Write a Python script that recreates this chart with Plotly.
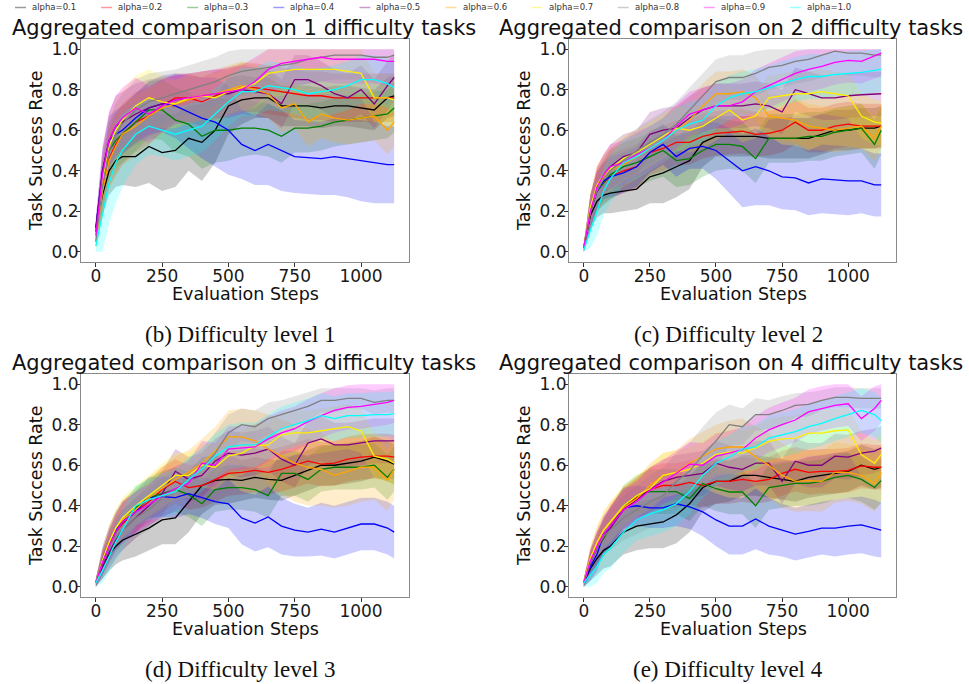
import plotly.graph_objects as go

W, H = 969, 684

STEPS = [0, 25, 50, 75, 100, 150, 200, 250, 300, 350, 400, 450, 500, 550,
         600, 650, 700, 750, 800, 850, 900, 950, 1000, 1050, 1100, 1125]

LABELS = ["alpha=0.1", "alpha=0.2", "alpha=0.3", "alpha=0.4", "alpha=0.5",
          "alpha=0.6", "alpha=0.7", "alpha=0.8", "alpha=0.9", "alpha=1.0"]
RGB = [(0, 0, 0), (255, 0, 0), (0, 128, 0), (0, 0, 255), (128, 0, 128),
       (255, 165, 0), (255, 238, 0), (128, 128, 128), (255, 0, 255), (0, 255, 255)]

TITLES = ["Aggregated comparison on 1 difficulty tasks",
          "Aggregated comparison on 2 difficulty tasks",
          "Aggregated comparison on 3 difficulty tasks",
          "Aggregated comparison on 4 difficulty tasks"]
CAPTIONS = ["(b) Difficulty level 1", "(c) Difficulty level 2",
            "(d) Difficulty level 3", "(e) Difficulty level 4"]

# ---------------- Difficulty level 1 (means) ----------------
L1_a01 = [0.12,0.28,0.40,0.45,0.47,0.47,0.52,0.49,0.50,0.56,0.54,0.60,0.72,0.75,0.76,0.76,0.72,0.72,0.72,0.71,0.72,0.72,0.71,0.70,0.76,0.77]
L1_a02 = [0.10,0.30,0.46,0.53,0.58,0.64,0.67,0.72,0.76,0.76,0.74,0.77,0.79,0.81,0.81,0.80,0.79,0.78,0.77,0.77,0.76,0.76,0.76,0.76,0.76,0.76]
L1_a03 = [0.10,0.34,0.50,0.55,0.58,0.64,0.70,0.70,0.65,0.63,0.57,0.60,0.60,0.61,0.61,0.60,0.57,0.61,0.61,0.62,0.64,0.65,0.66,0.67,0.68,0.71]
L1_a04 = [0.12,0.40,0.55,0.58,0.60,0.66,0.71,0.73,0.72,0.69,0.66,0.64,0.60,0.53,0.50,0.53,0.50,0.47,0.465,0.46,0.47,0.46,0.45,0.44,0.43,0.43]
L1_a05 = [0.12,0.40,0.55,0.62,0.64,0.68,0.71,0.73,0.75,0.76,0.77,0.78,0.78,0.80,0.79,0.78,0.73,0.85,0.85,0.82,0.78,0.76,0.80,0.73,0.82,0.86]
L1_a06 = [0.05,0.30,0.45,0.52,0.58,0.62,0.67,0.71,0.73,0.75,0.77,0.78,0.80,0.82,0.80,0.78,0.71,0.73,0.64,0.68,0.66,0.65,0.66,0.67,0.60,0.64]
L1_a07 = [0.05,0.35,0.52,0.60,0.65,0.72,0.76,0.74,0.73,0.76,0.77,0.76,0.79,0.81,0.83,0.88,0.89,0.90,0.90,0.90,0.90,0.89,0.88,0.76,0.76,0.75]
L1_a08 = [0.05,0.32,0.50,0.58,0.63,0.70,0.74,0.76,0.78,0.80,0.82,0.84,0.87,0.89,0.90,0.91,0.92,0.93,0.95,0.96,0.97,0.97,0.97,0.96,0.96,0.97]
L1_a09 = [0.08,0.38,0.55,0.62,0.66,0.71,0.68,0.72,0.75,0.76,0.77,0.78,0.79,0.80,0.84,0.90,0.93,0.94,0.95,0.96,0.95,0.95,0.95,0.95,0.94,0.94]
L1_a10 = [0.03,0.18,0.34,0.44,0.50,0.58,0.62,0.60,0.58,0.60,0.62,0.68,0.74,0.79,0.79,0.82,0.81,0.80,0.78,0.79,0.80,0.82,0.85,0.85,0.83,0.81]

# ---------------- Difficulty level 2 (means) ----------------
L2_a01 = [0.02,0.18,0.25,0.28,0.29,0.30,0.31,0.37,0.39,0.42,0.45,0.54,0.57,0.57,0.57,0.57,0.56,0.56,0.56,0.56,0.58,0.60,0.60,0.61,0.61,0.62]
L2_a02 = [0.02,0.20,0.30,0.34,0.37,0.40,0.42,0.49,0.51,0.54,0.54,0.57,0.585,0.59,0.595,0.58,0.585,0.60,0.64,0.60,0.60,0.62,0.63,0.62,0.62,0.62]
L2_a03 = [0.02,0.20,0.30,0.34,0.38,0.42,0.44,0.47,0.50,0.45,0.46,0.50,0.53,0.53,0.52,0.46,0.56,0.56,0.56,0.57,0.57,0.59,0.60,0.61,0.53,0.60]
L2_a04 = [0.02,0.20,0.30,0.35,0.37,0.39,0.42,0.49,0.53,0.47,0.51,0.52,0.50,0.45,0.40,0.42,0.40,0.37,0.365,0.34,0.36,0.355,0.35,0.35,0.33,0.33]
L2_a05 = [0.02,0.20,0.32,0.38,0.42,0.47,0.49,0.58,0.60,0.61,0.66,0.70,0.72,0.72,0.72,0.73,0.72,0.69,0.80,0.78,0.76,0.76,0.77,0.775,0.78,0.78]
L2_a06 = [0.02,0.20,0.32,0.37,0.40,0.43,0.47,0.51,0.55,0.60,0.65,0.72,0.78,0.78,0.79,0.76,0.67,0.66,0.65,0.62,0.61,0.60,0.61,0.62,0.56,0.62]
L2_a07 = [0.02,0.22,0.33,0.38,0.41,0.46,0.49,0.53,0.57,0.61,0.60,0.62,0.66,0.70,0.65,0.67,0.76,0.77,0.78,0.78,0.79,0.78,0.77,0.67,0.64,0.635]
L2_a08 = [0.02,0.20,0.30,0.36,0.40,0.45,0.50,0.54,0.58,0.63,0.70,0.77,0.84,0.86,0.86,0.88,0.91,0.92,0.94,0.95,0.97,0.99,0.98,0.98,0.97,0.97]
L2_a09 = [0.02,0.20,0.32,0.38,0.42,0.44,0.48,0.51,0.55,0.62,0.68,0.70,0.72,0.72,0.74,0.79,0.82,0.85,0.88,0.90,0.915,0.935,0.945,0.94,0.965,0.98]
L2_a10 = [0.01,0.10,0.20,0.30,0.36,0.44,0.47,0.51,0.55,0.60,0.63,0.65,0.72,0.76,0.78,0.79,0.81,0.83,0.85,0.865,0.865,0.875,0.88,0.885,0.895,0.90]

# ---------------- Difficulty level 3 (means) ----------------
L3_a01 = [0.02,0.10,0.16,0.20,0.23,0.26,0.29,0.33,0.34,0.42,0.50,0.525,0.53,0.525,0.54,0.53,0.525,0.55,0.575,0.60,0.60,0.61,0.62,0.64,0.62,0.605]
L3_a02 = [0.02,0.12,0.20,0.27,0.31,0.37,0.42,0.48,0.52,0.49,0.50,0.53,0.56,0.565,0.575,0.565,0.58,0.60,0.62,0.605,0.61,0.63,0.64,0.645,0.645,0.64]
L3_a03 = [0.02,0.12,0.20,0.27,0.32,0.39,0.44,0.46,0.48,0.455,0.41,0.48,0.49,0.49,0.48,0.45,0.56,0.56,0.53,0.58,0.59,0.59,0.59,0.60,0.54,0.58]
L3_a04 = [0.02,0.13,0.22,0.28,0.32,0.37,0.44,0.445,0.44,0.46,0.44,0.42,0.41,0.34,0.315,0.345,0.30,0.28,0.27,0.285,0.27,0.29,0.31,0.31,0.29,0.27]
L3_a05 = [0.02,0.10,0.17,0.23,0.28,0.34,0.40,0.46,0.57,0.53,0.55,0.62,0.66,0.65,0.66,0.68,0.63,0.60,0.71,0.73,0.70,0.70,0.71,0.72,0.72,0.72]
L3_a06 = [0.02,0.13,0.22,0.29,0.33,0.38,0.44,0.485,0.53,0.565,0.61,0.67,0.74,0.74,0.72,0.68,0.645,0.61,0.59,0.58,0.55,0.57,0.59,0.59,0.525,0.58]
L3_a07 = [0.02,0.13,0.22,0.29,0.34,0.40,0.45,0.50,0.55,0.55,0.60,0.59,0.645,0.66,0.695,0.70,0.75,0.76,0.76,0.77,0.78,0.79,0.77,0.645,0.63,0.61]
L3_a08 = [0.02,0.12,0.20,0.25,0.28,0.34,0.38,0.44,0.48,0.53,0.58,0.66,0.76,0.80,0.79,0.83,0.85,0.87,0.89,0.92,0.92,0.93,0.93,0.91,0.92,0.92]
L3_a09 = [0.02,0.12,0.20,0.27,0.32,0.37,0.405,0.45,0.485,0.51,0.61,0.60,0.68,0.685,0.69,0.73,0.76,0.78,0.815,0.845,0.87,0.885,0.89,0.90,0.91,0.92]
L3_a10 = [0.02,0.08,0.15,0.22,0.28,0.40,0.43,0.45,0.47,0.53,0.58,0.645,0.69,0.70,0.70,0.74,0.78,0.80,0.82,0.845,0.83,0.845,0.845,0.85,0.85,0.855]

# ---------------- Difficulty level 4 (means) ----------------
L4_a01 = [0.02,0.09,0.14,0.18,0.20,0.27,0.30,0.31,0.32,0.355,0.41,0.49,0.52,0.52,0.55,0.55,0.54,0.53,0.52,0.54,0.55,0.56,0.57,0.60,0.58,0.59]
L4_a02 = [0.02,0.12,0.19,0.24,0.30,0.39,0.44,0.48,0.50,0.50,0.515,0.50,0.52,0.52,0.53,0.52,0.53,0.56,0.58,0.565,0.57,0.57,0.575,0.597,0.59,0.59]
L4_a03 = [0.02,0.12,0.19,0.24,0.29,0.40,0.45,0.47,0.47,0.47,0.435,0.51,0.484,0.468,0.468,0.40,0.49,0.50,0.51,0.51,0.52,0.54,0.55,0.53,0.49,0.524]
L4_a04 = [0.02,0.10,0.16,0.26,0.29,0.39,0.40,0.39,0.39,0.41,0.395,0.37,0.33,0.30,0.30,0.335,0.30,0.28,0.26,0.274,0.29,0.29,0.30,0.306,0.29,0.28]
L4_a05 = [0.02,0.12,0.19,0.25,0.29,0.38,0.43,0.48,0.52,0.54,0.55,0.56,0.61,0.59,0.58,0.61,0.61,0.52,0.62,0.60,0.60,0.645,0.64,0.66,0.67,0.685]
L4_a06 = [0.02,0.14,0.22,0.28,0.32,0.39,0.435,0.50,0.55,0.565,0.61,0.645,0.68,0.69,0.69,0.64,0.60,0.55,0.52,0.524,0.52,0.565,0.565,0.55,0.51,0.565]
L4_a07 = [0.02,0.14,0.22,0.28,0.32,0.40,0.45,0.484,0.55,0.565,0.58,0.61,0.653,0.665,0.66,0.685,0.718,0.73,0.734,0.758,0.758,0.77,0.774,0.653,0.61,0.653]
L4_a08 = [0.02,0.12,0.19,0.25,0.28,0.34,0.38,0.42,0.45,0.52,0.57,0.65,0.72,0.80,0.79,0.85,0.85,0.87,0.895,0.90,0.92,0.935,0.935,0.93,0.93,0.93]
L4_a09 = [0.02,0.13,0.20,0.26,0.30,0.38,0.42,0.476,0.516,0.56,0.605,0.60,0.645,0.66,0.677,0.734,0.774,0.80,0.823,0.863,0.88,0.895,0.903,0.83,0.88,0.92]
L4_a10 = [0.02,0.06,0.10,0.16,0.19,0.27,0.33,0.36,0.38,0.41,0.47,0.55,0.61,0.64,0.68,0.69,0.734,0.75,0.766,0.79,0.806,0.83,0.85,0.87,0.85,0.82]

# ---------------- band half-widths (spread) ----------------
SD1_base  = [0.04,0.12,0.14,0.15,0.15,0.15,0.14,0.13,0.12,0.12,0.12,0.12,0.12,0.12,0.12,0.12,0.12,0.12,0.12,0.12,0.12,0.12,0.12,0.12,0.12,0.12]
SD1_black = [0.04,0.10,0.12,0.13,0.14,0.15,0.18,0.19,0.18,0.16,0.19,0.16,0.14,0.12,0.10,0.10,0.10,0.10,0.10,0.10,0.10,0.10,0.10,0.10,0.10,0.10]
SD1_blue  = [0.05,0.10,0.12,0.12,0.12,0.12,0.13,0.14,0.16,0.18,0.20,0.22,0.22,0.17,0.17,0.20,0.20,0.18,0.18,0.18,0.19,0.19,0.20,0.20,0.19,0.19]
SD1_cyan  = [0.03,0.18,0.20,0.20,0.18,0.15,0.14,0.13,0.13,0.13,0.13,0.13,0.12,0.12,0.12,0.12,0.12,0.12,0.12,0.12,0.12,0.12,0.12,0.12,0.12,0.12]
SD1_green = [0.04,0.12,0.14,0.14,0.14,0.14,0.14,0.15,0.16,0.16,0.16,0.16,0.15,0.14,0.13,0.13,0.13,0.12,0.12,0.12,0.12,0.12,0.12,0.12,0.12,0.12]

SD2_base  = [0.02,0.08,0.10,0.10,0.11,0.11,0.11,0.11,0.11,0.11,0.11,0.11,0.11,0.11,0.11,0.11,0.11,0.11,0.11,0.11,0.11,0.11,0.11,0.11,0.11,0.11]
SD2_black = [0.02,0.07,0.08,0.09,0.10,0.10,0.10,0.13,0.15,0.15,0.14,0.12,0.10,0.10,0.10,0.10,0.10,0.10,0.10,0.10,0.10,0.10,0.10,0.10,0.10,0.10]
SD2_blue  = [0.02,0.08,0.09,0.09,0.10,0.10,0.10,0.10,0.10,0.10,0.10,0.11,0.14,0.16,0.18,0.19,0.17,0.16,0.16,0.16,0.17,0.17,0.17,0.16,0.155,0.155]
SD2_cyan  = [0.01,0.08,0.12,0.12,0.12,0.11,0.11,0.11,0.11,0.11,0.11,0.11,0.11,0.11,0.11,0.11,0.11,0.11,0.11,0.11,0.11,0.11,0.11,0.11,0.11,0.11]
SD2_green = [0.02,0.08,0.10,0.11,0.12,0.12,0.12,0.12,0.13,0.13,0.13,0.13,0.13,0.12,0.12,0.12,0.12,0.12,0.12,0.12,0.12,0.12,0.12,0.12,0.12,0.12]

SD3_base   = [0.02,0.06,0.08,0.09,0.10,0.10,0.10,0.11,0.11,0.11,0.11,0.11,0.11,0.11,0.11,0.11,0.11,0.11,0.11,0.11,0.11,0.11,0.11,0.11,0.11,0.11]
SD3_black  = [0.02,0.06,0.08,0.09,0.10,0.11,0.11,0.12,0.13,0.15,0.14,0.12,0.12,0.10,0.10,0.10,0.10,0.10,0.10,0.10,0.10,0.10,0.10,0.10,0.10,0.10]
SD3_blue   = [0.02,0.07,0.08,0.09,0.10,0.10,0.10,0.10,0.10,0.10,0.10,0.11,0.12,0.13,0.14,0.15,0.14,0.13,0.12,0.13,0.13,0.13,0.13,0.13,0.13,0.13]
SD3_orange = [0.02,0.06,0.08,0.09,0.10,0.10,0.10,0.11,0.11,0.11,0.12,0.12,0.13,0.14,0.15,0.17,0.18,0.19,0.19,0.18,0.16,0.17,0.17,0.16,0.15,0.15]
SD3_gray   = [0.02,0.06,0.08,0.09,0.10,0.10,0.10,0.10,0.10,0.10,0.10,0.10,0.09,0.08,0.08,0.08,0.07,0.07,0.07,0.06,0.06,0.05,0.05,0.06,0.06,0.06]

SD4_base   = [0.02,0.06,0.08,0.09,0.10,0.10,0.10,0.11,0.11,0.11,0.11,0.11,0.11,0.11,0.11,0.11,0.11,0.11,0.11,0.11,0.11,0.11,0.11,0.11,0.11,0.11]
SD4_black  = [0.02,0.06,0.08,0.09,0.10,0.11,0.12,0.12,0.13,0.14,0.14,0.12,0.11,0.10,0.10,0.10,0.10,0.10,0.10,0.10,0.10,0.10,0.10,0.10,0.10,0.10]
SD4_blue   = [0.02,0.07,0.08,0.09,0.10,0.10,0.10,0.10,0.10,0.11,0.11,0.12,0.13,0.14,0.14,0.15,0.14,0.13,0.13,0.13,0.13,0.14,0.14,0.14,0.14,0.135]
SD4_orange = [0.02,0.06,0.08,0.09,0.10,0.10,0.10,0.11,0.11,0.11,0.12,0.12,0.12,0.13,0.14,0.15,0.16,0.16,0.15,0.15,0.15,0.15,0.14,0.14,0.14,0.14]
SD4_gray   = [0.02,0.06,0.08,0.09,0.10,0.11,0.12,0.13,0.14,0.14,0.14,0.14,0.14,0.10,0.09,0.08,0.07,0.07,0.06,0.06,0.05,0.05,0.05,0.05,0.05,0.05]

MEANS = [
    [L1_a01, L1_a02, L1_a03, L1_a04, L1_a05, L1_a06, L1_a07, L1_a08, L1_a09, L1_a10],
    [L2_a01, L2_a02, L2_a03, L2_a04, L2_a05, L2_a06, L2_a07, L2_a08, L2_a09, L2_a10],
    [L3_a01, L3_a02, L3_a03, L3_a04, L3_a05, L3_a06, L3_a07, L3_a08, L3_a09, L3_a10],
    [L4_a01, L4_a02, L4_a03, L4_a04, L4_a05, L4_a06, L4_a07, L4_a08, L4_a09, L4_a10],
]
SPREADS = [
    [SD1_black, SD1_base, SD1_green, SD1_blue, SD1_base, SD1_base, SD1_base, SD1_base, SD1_base, SD1_cyan],
    [SD2_black, SD2_base, SD2_green, SD2_blue, SD2_base, SD2_base, SD2_base, SD2_base, SD2_base, SD2_cyan],
    [SD3_black, SD3_base, SD3_base, SD3_blue, SD3_base, SD3_orange, SD3_base, SD3_gray, SD3_base, SD3_base],
    [SD4_black, SD4_base, SD4_base, SD4_blue, SD4_base, SD4_orange, SD4_base, SD4_gray, SD4_base, SD4_base],
]

# ---------------- layout geometry (pixels) ----------------
COLS = [(81, 409), (569, 896)]
ROWS = [(39, 262), (374, 597)]


def fx(px):
    return px / W


def fy(py):
    return 1 - py / H


def rgba(c, a):
    return "rgba(%d,%d,%d,%.2f)" % (c[0], c[1], c[2], a)


fig = go.Figure()

axis_font = dict(family="DejaVu Sans", size=17, color="#1a1a1a")

for p in range(4):
    r, c = divmod(p, 2)
    sfx = "" if p == 0 else str(p + 1)
    xa, ya = "x" + sfx, "y" + sfx
    for i in range(10):
        m = MEANS[p][i]
        s = SPREADS[p][i]
        assert len(m) == len(STEPS) and len(s) == len(STEPS)
        up = [min(v + d, 1.0) for v, d in zip(m, s)]
        lo = [max(v - d, 0.0) for v, d in zip(m, s)]
        fig.add_trace(go.Scatter(
            x=STEPS + STEPS[::-1], y=up + lo[::-1], xaxis=xa, yaxis=ya,
            fill="toself", fillcolor=rgba(RGB[i], 0.2), line=dict(width=0),
            mode="lines", hoverinfo="skip", showlegend=False))
    for i in range(10):
        fig.add_trace(go.Scatter(
            x=STEPS, y=MEANS[p][i], xaxis=xa, yaxis=ya, mode="lines",
            line=dict(color=rgba(RGB[i], 1.0), width=1.3),
            name=LABELS[i], showlegend=False))

    x0, x1 = COLS[c]
    y0, y1 = ROWS[r]
    common = dict(showline=True, mirror=True, linecolor="#8a8a8a", linewidth=1.2,
                  ticks="outside", ticklen=4, tickcolor="#333", tickwidth=1,
                  showgrid=False, zeroline=False, tickfont=axis_font,
                  ticklabelstandoff=-6)
    fig.layout["xaxis" + sfx] = dict(
        domain=[fx(x0), fx(x1)], anchor=ya, range=[-56, 1181],
        tickvals=[0, 250, 500, 750, 1000], **common)
    fig.layout["yaxis" + sfx] = dict(
        domain=[fy(y1), fy(y0)], anchor=xa, range=[-0.05, 1.05],
        tickvals=[0, 0.2, 0.4, 0.6, 0.8, 1.0],
        ticktext=["0.0", "0.2", "0.4", "0.6", "0.8", "1.0"], **common)

annotations = []
shapes = []
for p in range(4):
    r, c = divmod(p, 2)
    dx = 488 * c
    dy = 335 * r
    annotations.append(dict(text=TITLES[p], x=fx(244 + dx - (1 if c else 0)), y=fy(28 + dy), xref="paper", yref="paper",
                            showarrow=False, xanchor="center", yanchor="middle",
                            font=dict(family="DejaVu Sans", size=21, color="#111")))
    annotations.append(dict(text="Task Success Rate", x=fx(36 + dx), y=fy(151 + dy), xref="paper", yref="paper",
                            showarrow=False, textangle=-90, xanchor="center", yanchor="middle",
                            font=dict(family="DejaVu Sans", size=17.5, color="#111")))
    annotations.append(dict(text="Evaluation Steps", x=fx(245 + dx), y=fy(294 + dy), xref="paper", yref="paper",
                            showarrow=False, xanchor="center", yanchor="middle",
                            font=dict(family="DejaVu Sans", size=17.5, color="#111")))
    annotations.append(dict(text=CAPTIONS[p], x=fx(240 + dx), y=fy(334 + dy), xref="paper", yref="paper",
                            showarrow=False, xanchor="center", yanchor="middle",
                            font=dict(family="Liberation Serif", size=23, color="#111")))

# legend row at top
for i in range(10):
    tx = 30 + 86.1 * i
    shapes.append(dict(type="line", xref="paper", yref="paper",
                       x0=fx(tx - 15), x1=fx(tx - 4), y0=fy(7.5), y1=fy(7.5),
                       line=dict(color=rgba(RGB[i], 0.4), width=1.5)))
    annotations.append(dict(text=LABELS[i], x=fx(tx), y=fy(7.5), xref="paper", yref="paper",
                            showarrow=False, xanchor="left", yanchor="middle",
                            font=dict(family="DejaVu Sans", size=8.5, color="#333")))

fig.update_layout(
    width=W, height=H, margin=dict(l=0, r=0, t=0, b=0),
    paper_bgcolor="white", plot_bgcolor="white",
    showlegend=False, annotations=annotations, shapes=shapes,
)

fig.write_html("out.html", config={"displayModeBar": False},
               post_script="document.body.style.margin='0px';document.body.style.padding='0px';")
